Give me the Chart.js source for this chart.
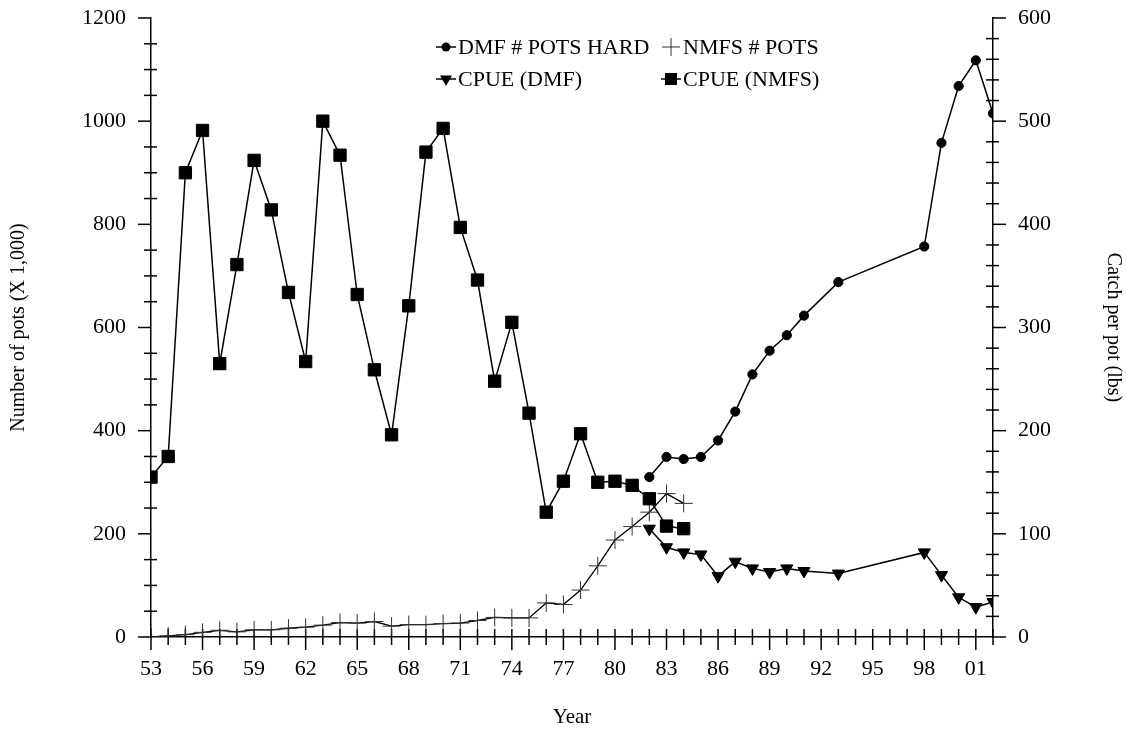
<!DOCTYPE html>
<html><head><meta charset="utf-8">
<script src="https://cdn.jsdelivr.net/npm/chart.js@4/dist/chart.umd.min.js"></script>
<style>html,body{margin:0;padding:0;background:#fff;}#wrap{width:1126px;height:732px;}</style>
</head><body><div id="wrap"><canvas id="c" width="1126" height="732"></canvas></div>
<script>
// ---------- data ----------
const dmfPotYears = [1982,1983,1984,1985,1986,1987,1988,1989,1990,1991,1993,1998,1999,2000,2001,2002];
const dmfPots     = [310,349,345,349,381,437,509,555,585,623,688,757,958,1068,1118,1015];

const nmfsPotYears = [1953,1954,1955,1956,1957,1958,1959,1960,1961,1962,1963,1964,1965,1966,1967,1968,1969,1970,1971,1972,1973,1974,1975,1976,1977,1978,1979,1980,1981,1982,1983,1984];
const nmfsPots     = [0,2,4.5,9,13,10,14,14,17,19,23,28,27,30,21,24,24,26,27,32,38,37,37,66,63,91,138,188,214,242,278,259];

const cpueDmfYears = [1982,1983,1984,1985,1986,1987,1988,1989,1990,1991,1993,1998,1999,2000,2001,2002];
const cpueDmf      = [105,87,82,80,59,73,66.5,63,66.5,64,61.5,82,60,38.5,29,34];

const cpueNmfsYears = [1953,1954,1955,1956,1957,1958,1959,1960,1961,1962,1963,1964,1965,1966,1967,1968,1969,1970,1971,1972,1973,1974,1975,1976,1977,1978,1979,1980,1981,1982,1983,1984];
const cpueNmfs      = [155,175,450,491,265,361,462,414,334,267,500,467,332,259,196,321,470,493,397,346,248,305,217,121,151,197,150,151,147,134,107.5,105];

const xTickYears  = [1953,1956,1959,1962,1965,1968,1971,1974,1977,1980,1983,1986,1989,1992,1995,1998,2001];
const leftTicks   = [0,200,400,600,800,1000,1200];
const rightTicks  = [0,100,200,300,400,500,600];

const seriesNames = ['DMF # POTS HARD','NMFS # POTS','CPUE (DMF)','CPUE (NMFS)'];
const xTitle = 'Year';
const leftTitle = 'Number of pots (X 1,000)';
const rightTitle = 'Catch per pot (lbs)';

// ---------- helpers ----------
const FONT = "'Liberation Serif','Times New Roman',serif";
const pts = (xs, ys) => xs.map((x, i) => ({x: x, y: ys[i]}));

function drawMarker(ctx, style, x, y, r, rot, stroke) {
  ctx.save();
  ctx.fillStyle = '#000';
  ctx.strokeStyle = stroke || '#000';
  ctx.lineWidth = 1;
  ctx.beginPath();
  if (style === 'circle') {
    ctx.arc(x, y, r, 0, Math.PI * 2); ctx.fill();
  } else if (style === 'rect') {
    const s = r * Math.SQRT1_2;
    ctx.rect(x - s, y - s, 2 * s, 2 * s); ctx.fill();
  } else if (style === 'triangle') {
    let a = (rot || 0) * Math.PI / 180;
    for (let i = 0; i < 3; i++) {
      const px = x + Math.sin(a) * r, py = y - Math.cos(a) * r;
      if (i === 0) ctx.moveTo(px, py); else ctx.lineTo(px, py);
      a += 2 * Math.PI / 3;
    }
    ctx.closePath(); ctx.fill();
  } else if (style === 'cross') {
    ctx.moveTo(x - r, y); ctx.lineTo(x + r, y);
    ctx.moveTo(x, y - r); ctx.lineTo(x, y + r);
    ctx.stroke();
  }
  ctx.restore();
}

const tickPlugin = {
  id: 'tickMarks',
  beforeDatasetsDraw(chart) {
    const ctx = chart.ctx, ca = chart.chartArea;
    const sx = chart.scales.x, sl = chart.scales.y, sr = chart.scales.y1;
    ctx.save();
    ctx.strokeStyle = '#000';
    ctx.lineWidth = 1.5;
    const line = (x1, y1, x2, y2) => { ctx.beginPath(); ctx.moveTo(x1, y1); ctx.lineTo(x2, y2); ctx.stroke(); };
    for (let yr = sx.min; yr <= sx.max; yr++) {
      const px = sx.getPixelForValue(yr);
      if (xTickYears.includes(yr)) line(px, ca.bottom - 8, px, ca.bottom + 13);
      else line(px, ca.bottom - 8, px, ca.bottom + 8);
    }
    for (let v = sl.min; v <= sl.max; v += 50) {
      const py = sl.getPixelForValue(v);
      if (leftTicks.includes(v)) line(ca.left - 13, py, ca.left, py);
      else line(ca.left - 7, py, ca.left + 6, py);
    }
    for (let v = sr.min; v <= sr.max; v += 20) {
      const py = sr.getPixelForValue(v);
      if (rightTicks.includes(v)) line(ca.right, py, ca.right + 13, py);
      else line(ca.right - 7, py, ca.right + 6, py);
    }
    ctx.restore();
  }
};

const legendPlugin = {
  id: 'customLegend',
  afterDraw(chart) {
    const ctx = chart.ctx;
    const items = [
      {x: 446, y: 47, style: 'circle', r: 4.5, name: seriesNames[0]},
      {x: 671, y: 47, style: 'cross', r: 9, name: seriesNames[1], stroke: '#333'},
      {x: 446, y: 79, style: 'triangle', r: 7, rot: 180, name: seriesNames[2]},
      {x: 671, y: 79, style: 'rect', r: 8.5, name: seriesNames[3]}
    ];
    ctx.save();
    ctx.font = '22px ' + FONT;
    ctx.textBaseline = 'middle';
    ctx.fillStyle = '#000';
    items.forEach(it => {
      ctx.strokeStyle = '#000'; ctx.lineWidth = 1.5;
      if (it.style !== 'cross') { ctx.beginPath(); ctx.moveTo(it.x - 10, it.y); ctx.lineTo(it.x + 10, it.y); ctx.stroke(); }
      drawMarker(ctx, it.style, it.x, it.y, it.r, it.rot, it.stroke);
      ctx.fillText(it.name, it.x + 12, it.y + 1);
    });
    ctx.restore();
  }
};

const noPad = s => { s.paddingTop = 0; s.paddingBottom = 0; };
const base = {showLine: true, tension: 0, borderColor: '#000', backgroundColor: '#000', pointBackgroundColor: '#000', pointBorderColor: '#000', fill: false};

new Chart(document.getElementById('c'), {
  type: 'scatter',
  data: {
    datasets: [
      Object.assign({}, base, {label: seriesNames[1], data: pts(nmfsPotYears, nmfsPots), yAxisID: 'y', borderWidth: 1.3,
        pointStyle: 'cross', pointRadius: 9, pointBorderWidth: 1, pointBorderColor: '#333', order: 4}),
      Object.assign({}, base, {label: seriesNames[0], data: pts(dmfPotYears, dmfPots), yAxisID: 'y', borderWidth: 1.5,
        pointStyle: 'circle', pointRadius: 4.6, pointBorderWidth: 1, order: 3}),
      Object.assign({}, base, {label: seriesNames[2], data: pts(cpueDmfYears, cpueDmf), yAxisID: 'y1', borderWidth: 1.5,
        pointStyle: 'triangle', pointRotation: 180, pointRadius: 7, pointBorderWidth: 1, order: 2}),
      Object.assign({}, base, {label: seriesNames[3], data: pts(cpueNmfsYears, cpueNmfs), yAxisID: 'y1', borderWidth: 1.5,
        pointStyle: 'rect', pointRadius: 8.7, pointBorderWidth: 1, order: 1})
    ]
  },
  options: {
    responsive: false,
    animation: false,
    devicePixelRatio: 1,
    layout: {padding: {top: 18, left: 0, right: 0, bottom: 0}},
    plugins: {legend: {display: false}, tooltip: {enabled: false}},
    elements: {point: {hoverRadius: 0}},
    scales: {
      x: {
        type: 'linear', position: 'bottom', min: 1953, max: 2002,
        afterBuildTicks: s => { s.ticks = xTickYears.map(v => ({value: v})); },
        afterFit: s => { s.height = 95; },
        grid: {display: false, drawTicks: false},
        border: {display: true, color: '#000', width: 1.5},
        ticks: {color: '#000', font: {family: FONT, size: 22}, padding: 19, maxRotation: 0, autoSkip: false,
          callback: v => String(v % 100).padStart(2, '0')},
        title: {display: true, text: xTitle, color: '#000', font: {family: FONT, size: 21}, padding: {top: 0, bottom: 2}}
      },
      y: {
        type: 'linear', position: 'left', min: 0, max: 1200,
        afterBuildTicks: s => { s.ticks = leftTicks.map(v => ({value: v})); },
        afterFit: s => { s.width = 151; noPad(s); },
        grid: {display: false, drawTicks: false},
        border: {display: true, color: '#000', width: 1.5},
        ticks: {color: '#000', font: {family: FONT, size: 22}, padding: 25, callback: v => String(v)},
        title: {display: true, text: leftTitle, color: '#000', font: {family: FONT, size: 20}, padding: {top: 7, bottom: 0}}
      },
      y1: {
        type: 'linear', position: 'right', min: 0, max: 600,
        afterBuildTicks: s => { s.ticks = rightTicks.map(v => ({value: v})); },
        afterFit: s => { s.width = 133; noPad(s); },
        grid: {display: false, drawTicks: false},
        border: {display: true, color: '#000', width: 1.5},
        ticks: {color: '#000', font: {family: FONT, size: 22}, padding: 25, callback: v => String(v)},
        title: {display: true, text: rightTitle, color: '#000', font: {family: FONT, size: 20}, padding: {top: 1, bottom: 0}}
      }
    }
  },
  plugins: [tickPlugin, legendPlugin]
});
</script>
</body></html>
